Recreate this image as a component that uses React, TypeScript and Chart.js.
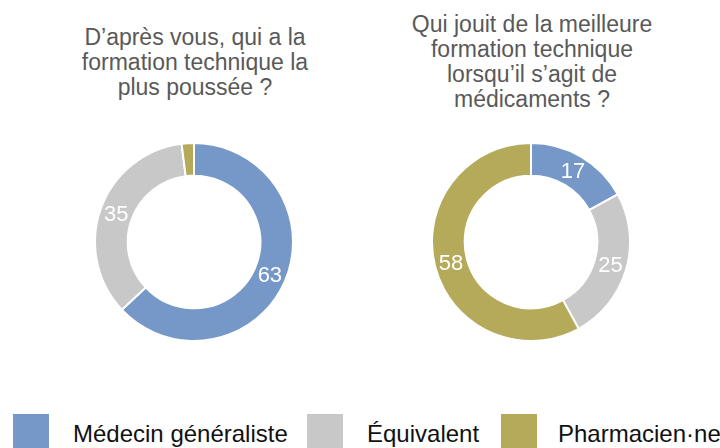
import React, { useEffect, useRef } from "react";
import { Chart, registerables } from "chart.js";

Chart.register(...registerables);

const categories = ["Médecin généraliste", "Équivalent", "Pharmacien·ne"];
const colors = ["#7698C9", "#C8C8C8", "#B4AA5A"];
const leftValues = [63, 35, 2];
const rightValues = [17, 25, 58];
const leftTitle = ["D’après vous, qui a la", "formation technique la", "plus poussée ?"];
const rightTitle = ["Qui jouit de la meilleure", "formation technique", "lorsqu’il s’agit de", "médicaments ?"];

const FONT = '"Liberation Sans", Arial, Helvetica, sans-serif';

const labelPlugin = {
  id: "arcLabels",
  afterDatasetsDraw(chart: any) {
    const ctx = chart.ctx;
    const meta = chart.getDatasetMeta(0);
    const data = chart.data.datasets[0].data as number[];
    ctx.save();
    ctx.fillStyle = "#ffffff";
    ctx.font = `22px ${FONT}`;
    ctx.textAlign = "center";
    ctx.textBaseline = "middle";
    meta.data.forEach((arc: any, i: number) => {
      const v = data[i];
      if (v < 5) return;
      const p = arc.getCenterPoint();
      ctx.fillText(String(v), p.x, p.y + 1);
    });
    ctx.restore();
  },
};

function Doughnut({ values, left }: { values: number[]; left: number }) {
  const ref = useRef<HTMLCanvasElement | null>(null);
  useEffect(() => {
    if (!ref.current) return;
    const chart = new Chart(ref.current, {
      type: "doughnut",
      data: {
        labels: categories,
        datasets: [
          {
            data: values,
            backgroundColor: colors,
            borderColor: "#ffffff",
            borderWidth: 2,
          },
        ],
      },
      options: {
        animation: false,
        responsive: false,
        maintainAspectRatio: false,
        cutout: "67%",
        layout: { padding: 0 },
        plugins: { legend: { display: false }, tooltip: { enabled: false }, title: { display: false } },
      },
      plugins: [labelPlugin],
    });
    return () => chart.destroy();
  }, []);
  return (
    <canvas
      ref={ref}
      width={200}
      height={200}
      style={{ position: "absolute", left, top: 142, width: 200, height: 200 }}
    />
  );
}

function Title({ lines, center }: { lines: string[]; center: number }) {
  return (
    <div
      style={{
        position: "absolute",
        left: center - 170,
        width: 340,
        top: 2,
        height: 120,
        display: "flex",
        flexDirection: "column",
        justifyContent: "center",
        alignItems: "center",
        fontFamily: FONT,
        fontSize: 23,
        lineHeight: "25px",
        color: "#595959",
        textAlign: "center",
      }}
    >
      {lines.map((l, i) => (
        <div key={i} style={{ whiteSpace: "nowrap" }}>{l}</div>
      ))}
    </div>
  );
}

const legendBoxLeft = [13, 307, 501];
const legendTextLeft = [73, 367, 558];

export default function App() {
  return (
    <div
      style={{
        position: "fixed",
        left: 0,
        top: 0,
        width: 720,
        height: 448,
        background: "#ffffff",
        overflow: "hidden",
      }}
    >
      <Title lines={leftTitle} center={195} />
      <Title lines={rightTitle} center={532} />
      <Doughnut values={leftValues} left={94} />
      <Doughnut values={rightValues} left={431} />
      {categories.map((c, i) => (
        <React.Fragment key={c}>
          <div
            style={{
              position: "absolute",
              left: legendBoxLeft[i],
              top: 414,
              width: 36,
              height: 36,
              background: colors[i],
            }}
          />
          <div
            style={{
              position: "absolute",
              left: legendTextLeft[i],
              top: 420,
              fontFamily: FONT,
              fontSize: 24,
              lineHeight: "28px",
              color: "#111111",
              whiteSpace: "nowrap",
            }}
          >
            {c}
          </div>
        </React.Fragment>
      ))}
    </div>
  );
}
